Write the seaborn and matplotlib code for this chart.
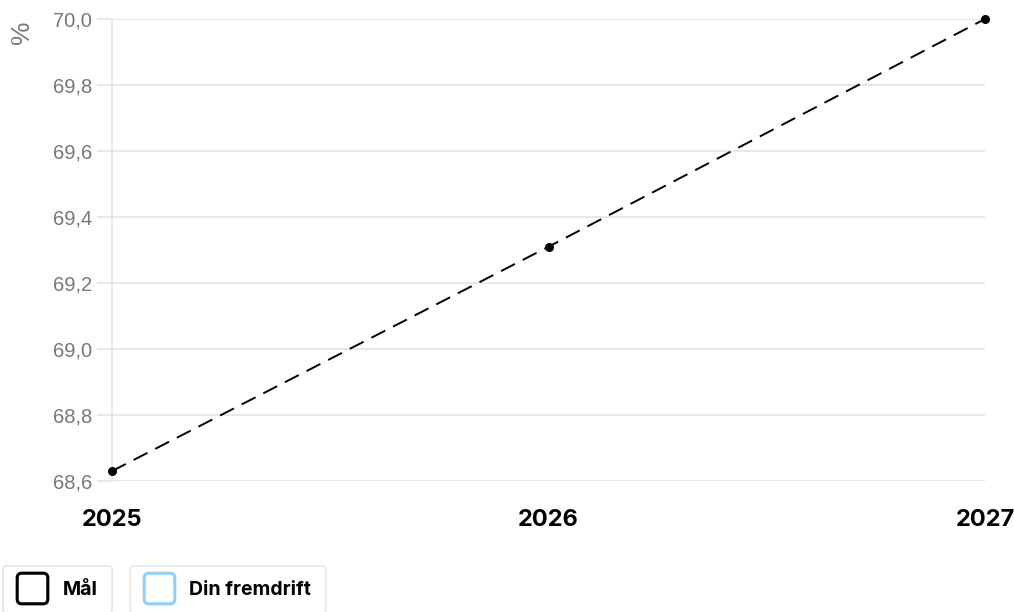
import matplotlib
matplotlib.use('Agg')
import matplotlib.pyplot as plt
from matplotlib.lines import Line2D
from matplotlib.path import Path
from matplotlib.ticker import FuncFormatter
import pandas as pd
import seaborn as sns

# Data
years = [2025, 2026, 2027]
goal_values = [68.63, 69.31, 70.0]
y_ticks = [68.6, 68.8, 69.0, 69.2, 69.4, 69.6, 69.8, 70.0]

df = pd.DataFrame({'year': years, 'value': goal_values})

sns.set_style('white')
plt.rcParams['font.family'] = ['Liberation Sans', 'DejaVu Sans']

fig = plt.figure(figsize=(10.14, 6.12), dpi=100)
ax = fig.add_axes([112 / 1014, 1 - 481 / 612, (985 - 112) / 1014, (481 - 19) / 612])

sns.lineplot(data=df, x='year', y='value', ax=ax, color='black', linewidth=1.4,
             marker='o', markersize=6.5, markeredgewidth=0, clip_on=False, zorder=5)
ax.lines[0].set_dashes((8, 4.5))

ax.set_xlim(2025, 2027)
ax.set_ylim(68.6, 70.0)
ax.set_yticks(y_ticks)
ax.yaxis.set_major_formatter(FuncFormatter(lambda v, p: f'{v:.1f}'.replace('.', ',')))
ax.set_xticks(years)
ax.set_xticklabels([str(y) for y in years], fontfamily='Inter', fontweight='bold',
                   fontsize=17, color='black')
ax.set_xlabel('')
ax.set_ylabel('')

grid_c = '#e4e4e4'
ax.grid(axis='y', color=grid_c, linewidth=1.2)
ax.grid(axis='x', visible=False)
for s in ['top', 'right', 'bottom']:
    ax.spines[s].set_visible(False)
ax.spines['left'].set_color(grid_c)
ax.spines['left'].set_linewidth(1.2)
ax.tick_params(axis='y', left=True, length=11, width=1.2, color=grid_c, labelsize=14.5,
               labelcolor='#777777', pad=3.5)
ax.tick_params(axis='x', length=0, pad=20)

fig.text(22 / 1014, 1 - 32 / 612, '%', rotation=90, fontsize=19, color='#777777',
         ha='center', va='center')

# rounded square marker for the legend handles
r = 0.3
rounded_sq = Path(
    [(-1 + r, -1), (1 - r, -1), (1, -1), (1, -1 + r), (1, 1 - r), (1, 1), (1 - r, 1),
     (-1 + r, 1), (-1, 1), (-1, 1 - r), (-1, -1 + r), (-1, -1), (-1 + r, -1), (-1 + r, -1)],
    [Path.MOVETO, Path.LINETO, Path.CURVE3, Path.CURVE3, Path.LINETO, Path.CURVE3, Path.CURVE3,
     Path.LINETO, Path.CURVE3, Path.CURVE3, Path.LINETO, Path.CURVE3, Path.CURVE3, Path.CLOSEPOLY])


def legend_box(label, edge, x):
    h = Line2D([], [], marker=rounded_sq, markersize=22, markerfacecolor='white',
               markeredgecolor=edge, markeredgewidth=2.2, linestyle='none')
    leg = fig.legend([h], [label], loc='upper left', bbox_to_anchor=(x, 1 - 566 / 612),
                     borderaxespad=0, frameon=True, fancybox=True, handlelength=1.5,
                     handletextpad=0.8, borderpad=0.75, labelcolor='black',
                     prop={'family': 'Inter', 'weight': 'bold', 'size': 14})
    leg.get_frame().set_edgecolor('#e3e3e3')
    leg.get_frame().set_linewidth(1.2)
    return leg

fig.add_artist(legend_box('Mål', 'black', 3 / 1014))
legend_box('Din fremdrift', '#8fd0f7', 130 / 1014)

fig.savefig('out.png', dpi=100)
